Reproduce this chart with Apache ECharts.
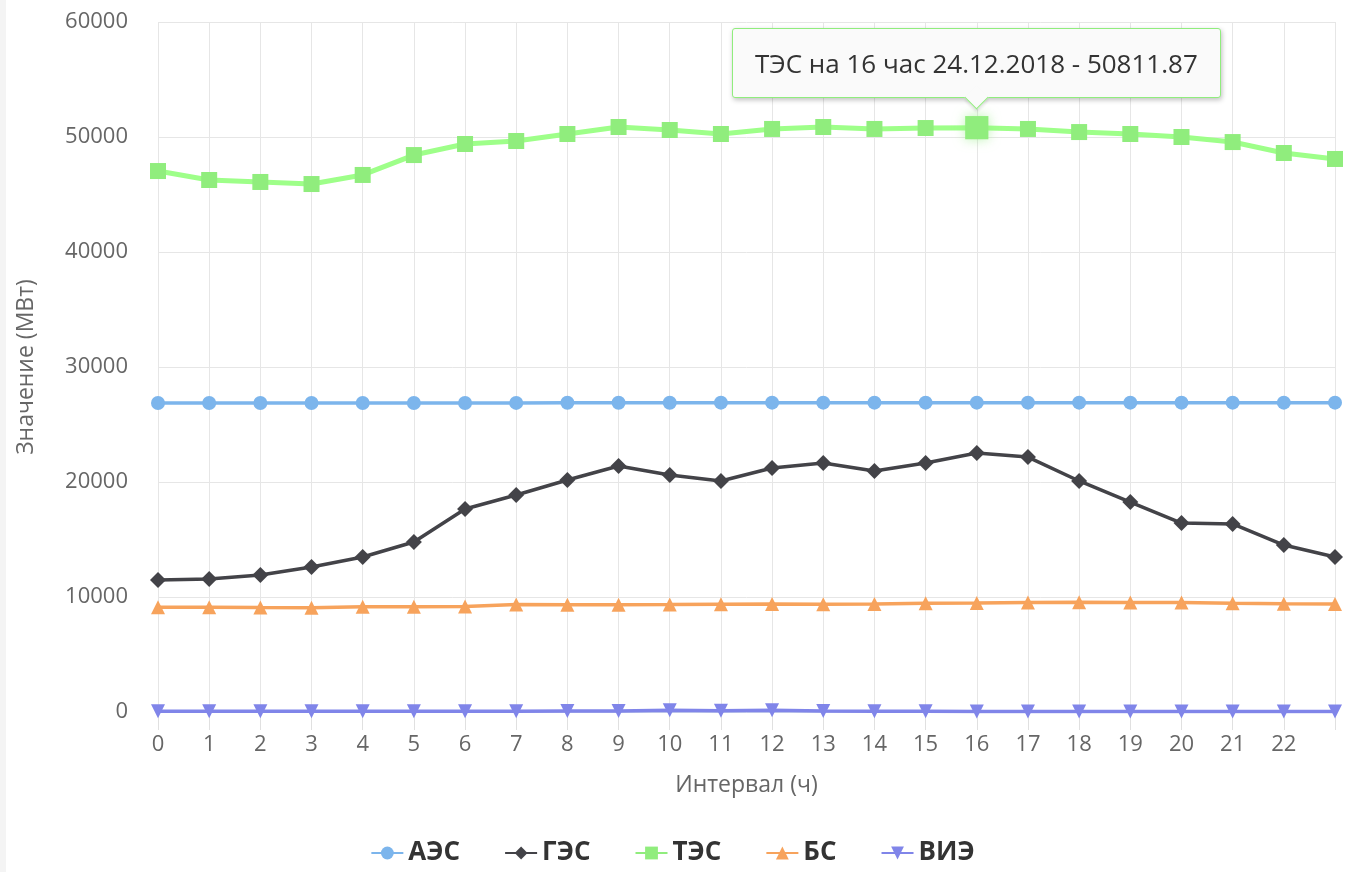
<!DOCTYPE html>
<html>
<head>
<meta charset="utf-8">
<script src="https://cdn.jsdelivr.net/npm/echarts@6/dist/echarts.min.js"></script>
<style>
html,body{margin:0;padding:0;background:#fff;}
#c{width:1345px;height:872px;}
#strip{position:absolute;left:0;top:0;width:6px;height:872px;background:#f4f4f4;}
</style>
</head>
<body>
<div id="c"></div>
<div id="strip"></div>
<script>
const hours = ['0','1','2','3','4','5','6','7','8','9','10','11','12','13','14','15','16','17','18','19','20','21','22','23'];
const aes = [26870,26870,26870,26870,26870,26870,26870,26880,26890,26890,26890,26900,26900,26900,26900,26900,26900,26900,26900,26900,26900,26900,26900,26900];
const ges = [11480,11560,11910,12610,13480,14780,17650,18870,20170,21390,20610,20090,21220,21650,20960,21650,22520,22170,20090,18260,16430,16350,14520,13480];
const tes = [47040,46260,46090,45910,46700,48430,49390,49650,50260,50870,50610,50260,50700,50870,50700,50780,50811.87,50700,50430,50260,50000,49560,48610,48090];
const bs  = [9100,9100,9080,9070,9150,9160,9180,9350,9330,9330,9340,9380,9400,9380,9400,9450,9480,9520,9550,9530,9520,9450,9420,9400];
const vie = [60,60,60,60,60,60,60,70,80,90,160,110,150,80,70,60,50,40,40,40,40,40,40,40];
const yTicks = {min:0, max:60000, interval:10000};

const chart = echarts.init(document.getElementById('c'));
const font = 'Open Sans, DejaVu Sans, sans-serif';
function mk(name, data, color, symbol, size, width){
  return {name:name, type:'line', data:data, symbol:symbol, symbolSize:size, showSymbol:true,
    lineStyle:{color:color, width:width}, itemStyle:{color:color},
    emphasis:{scale:1.45, itemStyle:{color:color, shadowBlur:12, shadowColor:'rgba(144,237,125,0.6)'}}};
}
const arrow = '<div style="position:absolute;left:50%;bottom:-9px;width:16px;height:16px;margin-left:-8px;background:#fafafa;border-right:1px solid #90ed7d;border-bottom:1px solid #90ed7d;transform:rotate(45deg);box-shadow:2px 2px 3px rgba(0,0,0,0.12);"></div>';
chart.setOption({
  animation:false,
  textStyle:{fontFamily:font},
  grid:{left:158, right:10, top:22, bottom:160},
  tooltip:{trigger:'item', triggerOn:'none', alwaysShowContent:true,
    position:function(pt, params, dom, rect, size){
      return [pt[0]-size.contentSize[0]/2, pt[1]-size.contentSize[1]-30];
    },
    backgroundColor:'#fafafa', borderColor:'#90ed7d', borderWidth:1,
    padding:[16,22], textStyle:{color:'#333', fontSize:26, fontFamily:font},
    extraCssText:'box-shadow:1px 2px 5px rgba(0,0,0,0.25);border-radius:3px;',
    formatter:function(p){return '<div style="position:relative;line-height:36px;">'+p.seriesName+' на '+p.name+' час 24.12.2018 - '+p.value+'</div>'+arrow;}},
  legend:{top:835, left:'center', itemGap:44, itemWidth:32, itemHeight:16,
    textStyle:{fontSize:26, fontWeight:'bold', color:'#333', fontFamily:font},
    data:['АЭС','ГЭС','ТЭС','БС','ВИЭ']},
  xAxis:{type:'category', data:hours, boundaryGap:false,
    name:'Интервал (ч)', nameLocation:'middle', nameGap:62,
    nameTextStyle:{fontSize:23, color:'#666'},
    axisLine:{show:true, lineStyle:{color:'#ccd6eb'}},
    axisTick:{show:true, length:18, lineStyle:{color:'#e0e0e0'}},
    axisLabel:{color:'#666', fontSize:22, margin:22, interval:0,
      formatter:function(v){return v==='23'?'':v;}},
    splitLine:{show:true, lineStyle:{color:'#e6e6e6'}}},
  yAxis:{type:'value', min:yTicks.min, max:yTicks.max, interval:yTicks.interval,
    name:'Значение (МВт)', nameLocation:'middle', nameGap:120,
    nameTextStyle:{fontSize:23, color:'#666'},
    axisLine:{show:false}, axisTick:{show:false},
    axisLabel:{color:'#666', fontSize:22, margin:30, formatter:function(v){return String(v);}},
    splitLine:{lineStyle:{color:'#e6e6e6'}}},
  series:[
    mk('АЭС', aes, '#7cb5ec', 'circle', 14, 3.5),
    mk('ГЭС', ges, '#434348', 'diamond', 16, 3.5),
    mk('ТЭС', tes, '#90ed7d', 'rect', 16, 5),
    mk('БС', bs, '#f7a35c', 'triangle', 14, 3.5),
    mk('ВИЭ', vie, '#8085e9', 'path://M0,0 L10,0 L5,10 Z', 14, 3.5)
  ]
});
setTimeout(function(){
  chart.dispatchAction({type:'highlight', seriesIndex:2, dataIndex:16});
  chart.dispatchAction({type:'showTip', seriesIndex:2, dataIndex:16});
}, 50);
</script>
</body>
</html>
